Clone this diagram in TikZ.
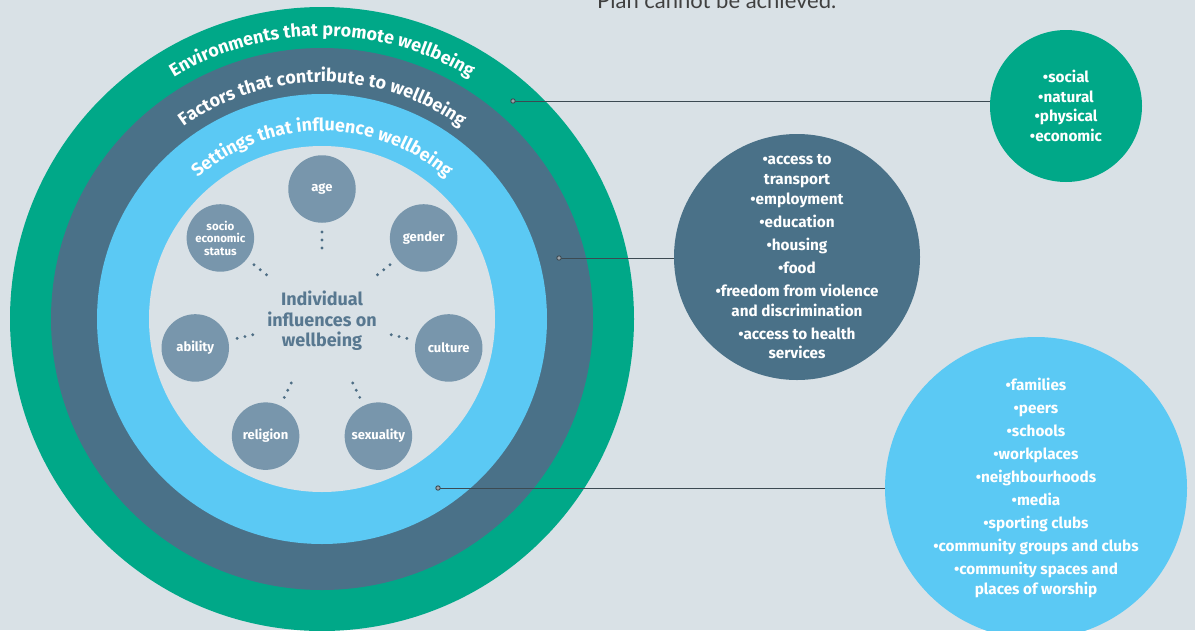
\documentclass[tikz,border=0pt]{standalone}
\usepackage{fontspec}
\setmainfont{Fira Sans}
\newfontfamily\toplinefont{Lato}
\usetikzlibrary{decorations.text,calc}
\definecolor{bg}{HTML}{D9E1E6}
\definecolor{envgreen}{HTML}{00A888}
\definecolor{facblue}{HTML}{4A7188}
\definecolor{setblue}{HTML}{5BC9F4}
\definecolor{indgrey}{HTML}{7896AC}
\definecolor{centtext}{HTML}{587890}
\definecolor{dotc}{HTML}{4E6E85}
\definecolor{linec}{HTML}{3C4A52}
\newcommand{\arcfont}{\color{white}\bfseries\fontsize{18}{18}\selectfont}
\begin{document}
\begin{tikzpicture}[x=1pt,y=-1pt,
  disc/.style={circle, inner sep=0pt, minimum size=#1},
  smallc/.style={disc=67.5pt, fill=indgrey, text=white, align=center, font=\bfseries\fontsize{13}{14}\selectfont},
  infobox/.style={align=center, text=white, font=\bfseries\fontsize{15.3}{19.5}\selectfont},
  conn/.style={draw=linec, line width=0.9pt},
  conndot/.style={draw=linec, fill=linec!50, line width=0.9pt}]
\useasboundingbox (0,0) rectangle (1195,630);
\fill[bg] (0,0) rectangle (1195,630);
\coordinate (C) at (322,319);
% top text
\node[anchor=base west, inner sep=0pt, text=black!75, font=\toplinefont\fontsize{22}{22}\selectfont] (topline) at (597,8) {Plan cannot be achieved.};
% concentric rings
\node[disc=624pt, fill=envgreen] (env) at (C) {};
\node[disc=542pt, fill=facblue] (fac) at (C) {};
\node[disc=450pt, fill=setblue] (set) at (C) {};
\node[disc=346pt, fill=bg] (ind) at (C) {};
% arc labels
\path[decorate, decoration={text along path, text align=center, text={|\arcfont|Environments that promote wellbeing}}]
  ($(C)+(-283,0)$) arc[start angle=180, end angle=360, radius=283];
\path[decorate, decoration={text along path, text align=center, text={|\arcfont|Factors that contribute to wellbeing}}]
  ($(C)+(-237,0)$) arc[start angle=180, end angle=360, radius=237];
\path[decorate, decoration={text along path, text align=center, text={|\arcfont|Settings that influence wellbeing}}]
  ($(C)+(-188,0)$) arc[start angle=180, end angle=360, radius=188];
% centre text
\node[align=center, text=centtext, font=\bfseries\fontsize{18}{20.5}\selectfont] (centre) at (322,321) {Individual\\influences on\\wellbeing};
% individual influences
\foreach \nm/\ang/\lbl/\fs in {age/90/age/13, gender/38.57/gender/13, culture/-12.86/culture/13, sexuality/-64.29/sexuality/13, religion/-115.71/religion/13, ability/-167.14/ability/13, socio/141.43/{socio\\economic\\status}/11.5} {
  \node[smallc, font=\bfseries\fontsize{\fs}{12.5}\selectfont] (\nm) at ($(C)+({-\ang}:130)$) {\lbl};
  \foreach \d in {71,79,87}
    \fill[dotc] ($(C)+({-\ang}:\d)$) circle[radius=1.6];
}
% right-hand circles
\node[disc=152pt, fill=envgreen] (envc) at (1066,106) {};
\node[infobox] (envt) at (envc) {•social\\•natural\\•physical\\•economic};
\node[disc=246pt, fill=facblue] (facc) at (797,257) {};
\node[infobox] (fact) at (facc) {•access to\\transport\\[1pt]•employment\\[3.5pt]•education\\[3.5pt]•housing\\[3.5pt]•food\\[3.5pt]•freedom from violence\\and discrimination\\[3.5pt]•access to health\\services};
\node[disc=302pt, fill=setblue] (setc) at (1036,488) {};
\node[infobox] (sett) at (setc) {•families\\[3.5pt]•peers\\[3.5pt]•schools\\[3.5pt]•workplaces\\[3.5pt]•neighbourhoods\\[3.5pt]•media\\[3.5pt]•sporting clubs\\[3.5pt]•community groups and clubs\\[3.5pt]•community spaces and\\places of worship};
% connectors
\coordinate (d1) at (513,101);
\coordinate (d2) at (559,258);
\coordinate (d3) at (438,488);
\draw[conn] (d1) -- (d1 -| envc.west);
\draw[conn] (d2) -- (d2 -| facc.west);
\draw[conn] (d3) -- (d3 -| setc.west);
\foreach \d in {d1,d2,d3} \draw[conndot] (\d) circle[radius=2.2];
\end{tikzpicture}
\end{document}
